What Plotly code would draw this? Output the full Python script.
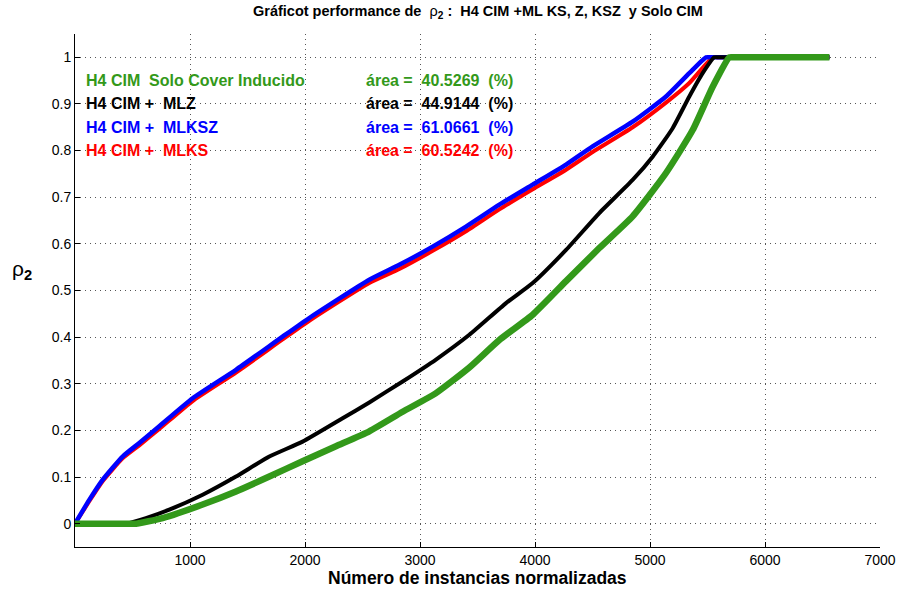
import plotly.graph_objects as go

# ---------------- data ----------------
x_mlksz = [0, 124, 240, 414, 559, 733, 1023, 1400, 1805, 2037, 2559, 2820, 3110, 3400, 3690, 3980, 4270, 4501, 4849, 5139, 5342, 5487, 5530, 5650, 6560]
y_mlksz = [0, 0.051, 0.094, 0.144, 0.173, 0.209, 0.269, 0.33, 0.401, 0.441, 0.523, 0.555, 0.594, 0.637, 0.684, 0.727, 0.77, 0.809, 0.862, 0.916, 0.966, 1.0, 1.0, 1.0, 1.0]

x_mlks = [0, 124, 240, 414, 559, 733, 1023, 1400, 1805, 2037, 2559, 2820, 3110, 3400, 3690, 3980, 4270, 4501, 4849, 5139, 5342, 5545, 5590, 5700, 6560]
y_mlks = [0, 0.048, 0.091, 0.140, 0.168, 0.203, 0.263, 0.324, 0.395, 0.435, 0.516, 0.546, 0.585, 0.627, 0.674, 0.717, 0.759, 0.797, 0.850, 0.903, 0.945, 1.0, 1.0, 1.0, 1.0]

x_mlz = [0, 200, 400, 443, 617, 820, 1110, 1400, 1690, 1979, 2327, 2559, 2849, 3139, 3429, 3748, 3980, 4270, 4559, 4849, 5023, 5197, 5342, 5458, 5559, 5600, 5720, 6560]
y_mlz = [0, 0, 0, 0, 0.012, 0.03, 0.062, 0.101, 0.144, 0.176, 0.226, 0.26, 0.305, 0.352, 0.405, 0.473, 0.516, 0.587, 0.666, 0.737, 0.787, 0.848, 0.916, 0.966, 1.0, 1.0, 1.0, 1.0]

x_solo = [0, 250, 480, 530, 762, 1110, 1400, 1690, 1979, 2269, 2559, 2849, 3139, 3429, 3690, 3980, 4270, 4559, 4849, 5139, 5371, 5545, 5690, 5730, 5850, 6560]
y_solo = [0, 0, 0, 0, 0.012, 0.041, 0.069, 0.101, 0.134, 0.166, 0.198, 0.24, 0.28, 0.335, 0.394, 0.448, 0.52, 0.591, 0.659, 0.752, 0.844, 0.937, 1.0, 1.0, 1.0, 1.0]

legend_labels = ["H4 CIM\u00a0\u00a0Solo Cover Inducido", "H4 CIM +\u00a0\u00a0MLZ", "H4 CIM +\u00a0\u00a0MLKSZ", "H4 CIM +\u00a0\u00a0MLKS"]
area_values = ["40.5269", "44.9144", "61.0661", "60.5242"]
label_y = [0.95, 0.90, 0.85, 0.80]

x_ticks = [1000, 2000, 3000, 4000, 5000, 6000, 7000]
y_ticks = [0, 0.1, 0.2, 0.3, 0.4, 0.5, 0.6, 0.7, 0.8, 0.9, 1.0]
y_ticktext = ["0", "0.1", "0.2", "0.3", "0.4", "0.5", "0.6", "0.7", "0.8", "0.9", "1"]

GREEN = "rgb(51,153,26)"
colors = [GREEN, "black", "blue", "red"]

FONT = "Liberation Sans, Arial, Helvetica, sans-serif"

def line(color, width):
    return dict(color=color, width=width, shape="spline", smoothing=0.5)

fig = go.Figure()
fig.add_trace(go.Scatter(x=x_mlks, y=y_mlks, mode="lines", line=line("red", 4), showlegend=False))
fig.add_trace(go.Scatter(x=x_mlksz, y=y_mlksz, mode="lines", line=line("blue", 4.5), showlegend=False))
fig.add_trace(go.Scatter(x=x_mlz, y=y_mlz, mode="lines", line=line("black", 4), showlegend=False))
fig.add_trace(go.Scatter(x=x_solo, y=y_solo, mode="lines", line=line(GREEN, 6.5), showlegend=False))

for lab, val, yy, c in zip(legend_labels, area_values, label_y, colors):
    fig.add_annotation(x=80, y=yy, xref="x", yref="y", text="<b>" + lab + "</b>",
                       showarrow=False, xanchor="left", yanchor="middle",
                       font=dict(family=FONT, size=16, color=c))
    fig.add_annotation(x=2510, y=yy, xref="x", yref="y",
                       text="<b>área =\u00a0\u00a0" + val + "\u00a0\u00a0(%)</b>",
                       showarrow=False, xanchor="left", yanchor="middle",
                       font=dict(family=FONT, size=16, color=c))

# title
fig.add_annotation(x=0.5, y=1 + (34 - 12) / 513.0, xref="paper", yref="paper",
                   text="<b>Gráficot performance de</b>\u00a0\u00a0ρ<sub><b>2</b></sub><b>\u00a0:\u00a0\u00a0H4 CIM +ML KS, Z, KSZ\u00a0\u00a0y Solo CIM</b>",
                   showarrow=False, yanchor="middle", font=dict(family=FONT, size=14.5, color="black"))
# y label
fig.add_annotation(x=-0.066, y=0.54, xref="paper", yref="paper",
                   text="ρ<sub><b>2</b></sub>", showarrow=False, xanchor="center", yanchor="middle",
                   font=dict(family=FONT, size=21, color="black"))
# x label
fig.add_annotation(x=0.5, y=-0.06, xref="paper", yref="paper",
                   text="<b>Número de instancias normalizadas</b>", showarrow=False,
                   xanchor="center", yanchor="middle",
                   font=dict(family=FONT, size=17.5, color="black"))

grid = dict(showgrid=True, gridcolor="#555", gridwidth=1, griddash="1px,4px")
fig.update_xaxes(range=[0, 7000], tickvals=x_ticks, ticks="inside", ticklen=5, tickcolor="black",
                 showline=True, linecolor="black", linewidth=1, zeroline=False,
                 tickfont=dict(family=FONT, size=14, color="black"), **grid)
fig.update_yaxes(range=[-0.05, 1.05], tickvals=y_ticks, ticktext=y_ticktext, ticks="inside", ticklen=5,
                 tickcolor="black", showline=True, linecolor="black", linewidth=1, zeroline=False,
                 tickfont=dict(family=FONT, size=14, color="black"), **grid)

fig.update_layout(width=900, height=590, margin=dict(l=75, r=20, t=34, b=43, autoexpand=False),
                  plot_bgcolor="white", paper_bgcolor="white", showlegend=False)

fig.write_html("out.html")
